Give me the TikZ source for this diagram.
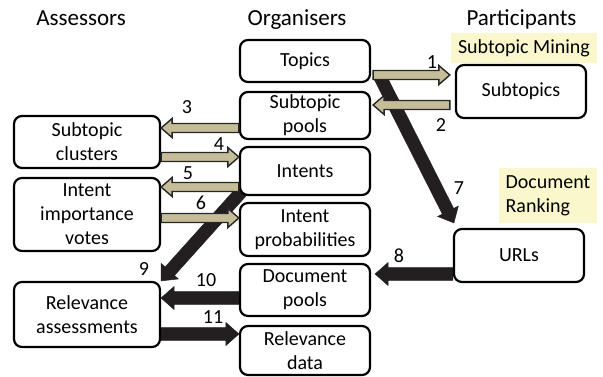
\documentclass[tikz,border=0pt]{standalone}
\usepackage{fontspec}
\setmainfont{Carlito}
\usetikzlibrary{calc,backgrounds}
\definecolor{tanfill}{RGB}{196,189,151}
\definecolor{arrowblack}{RGB}{35,31,32}
\definecolor{notefill}{RGB}{251,247,204}
\begin{document}
\begin{tikzpicture}[x=1pt,y=-1pt,
    box/.style={draw=black, line width=2.2pt, rounded corners=8pt, fill=white,
        align=center, inner sep=0pt, font=\fontsize{20}{24}\selectfont},
    colhead/.style={anchor=base, font=\fontsize{23}{27}\selectfont},
    note/.style={fill=notefill, inner sep=0pt, font=\fontsize{20}{24}\selectfont},
    numlbl/.style={fill=white, inner sep=0.5pt, font=\fontsize{20}{24}\selectfont},
    blockarrow/.style n args={3}{to path={
        let \p1=(\tikztostart), \p2=(\tikztotarget), \p3=($(\p2)!#3!(\p1)$) in
        ($(\p1)!#1!90:(\p2)$) -- ($(\p3)!#1!-90:(\p1)$) -- ($(\p3)!#2!-90:(\p1)$)
        -- (\p2) -- ($(\p3)!#2!90:(\p1)$) -- ($(\p3)!#1!90:(\p1)$)
        -- ($(\p1)!#1!-90:(\p2)$) -- cycle}},
    tanarrow/.style={draw=black!85, line width=1.4pt, fill=tanfill, blockarrow={4.5pt}{9.5pt}{11pt}},
    blkarrow/.style={draw=arrowblack, line width=0.5pt, fill=arrowblack, blockarrow={6.3pt}{11.5pt}{13pt}}]
\useasboundingbox (0,0) rectangle (603,376);

% column headings
\node[colhead] (hass) at (81,25) {Assessors};
\node[colhead] (horg) at (297,25) {Organisers};
\node[colhead] (hpar) at (521.5,25) {Participants};

% task notes
\node[note, minimum width=146, minimum height=30] (mining) at (524,48) {Subtopic Mining};
\node[note, minimum width=98, minimum height=55, align=left] (ranking) at (548,195.5) {Document\\Ranking};

% organisers
\node[box, minimum width=130, minimum height=42] (topics)   at (305,61)    {Topics};
\node[box, minimum width=130, minimum height=47] (pools)    at (305,115.5) {Subtopic\\pools};
\node[box, minimum width=130, minimum height=48] (intents)  at (305,171)   {Intents};
\node[box, minimum width=130, minimum height=53] (probs)    at (305,229.5) {Intent\\probabilities};
\node[box, minimum width=130, minimum height=52] (docpools) at (305,290)   {Document\\pools};
\node[box, minimum width=130, minimum height=49] (reldata)  at (305,350.5) {Relevance\\data};
% assessors
\node[box, minimum width=146, minimum height=52] (clusters) at (87,142)    {Subtopic\\clusters};
\node[box, minimum width=146, minimum height=73] (votes)    at (87,214.5)  {Intent\\importance\\votes};
\node[box, minimum width=146, minimum height=65] (assess)   at (87,314.5)  {Relevance\\assessments};
% participants
\node[box, minimum width=130, minimum height=53] (subtopics) at (521,91.5) {Subtopics};
\node[box, minimum width=130, minimum height=53] (urls)      at (519,255.5) {URLs};

% black arrows and numbers sit under the boxes
\begin{scope}[on background layer]
  \draw[blkarrow] ($(topics.south east)+(8,-8)$) to ($(urls.north west)+(1,-5)$);
  \draw[blkarrow] ($(intents.south west)+(3,-5)$) to (assess.north east);
  \draw[blkarrow] (urls.west |- 0,274) to ($(docpools.east |- 0,274)+(4,0)$);
  \draw[blkarrow] (docpools.west |- 0,298) to (assess.east |- 0,298);
  \draw[blkarrow] (assess.east |- 0,334) to (reldata.west |- 0,334);

  \foreach \n/\x/\y in {1/432/62, 2/441/125, 3/187/107, 4/219/144, 5/188/173, 6/201/203,
      7/459/188, 8/399/256, 9/144/269, 10/206/280, 11/213/317}
    \node[numlbl] (n\n) at (\x,\y) {\n};
\end{scope}

% tan arrows
\draw[tanarrow] ($(topics.east |- 0,75)+(2,0)$) to ($(subtopics.west |- 0,75)+(-5,0)$);
\draw[tanarrow] ($(subtopics.west |- 0,105)+(-5,0)$) to ($(pools.east |- 0,105)+(2,0)$);
\draw[tanarrow] (pools.west |- 0,128) to (clusters.east |- 0,128);
\draw[tanarrow] (clusters.east |- 0,157) to (intents.west |- 0,157);
\draw[tanarrow] (intents.west |- 0,187) to (votes.east |- 0,187);
\draw[tanarrow] (votes.east |- 0,218) to (probs.west |- 0,218);
\end{tikzpicture}
\end{document}
